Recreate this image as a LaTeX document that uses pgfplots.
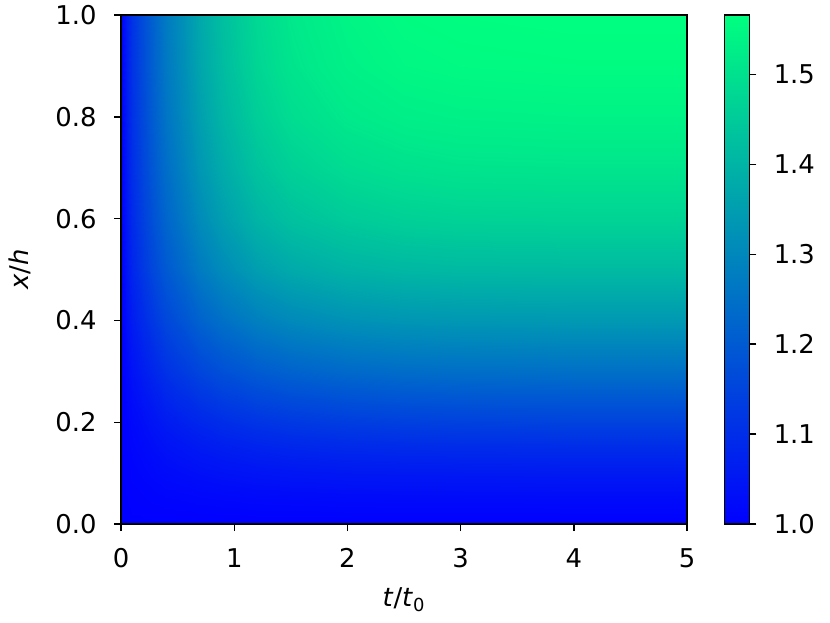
\documentclass[border=0pt]{standalone}
\usepackage{fontspec}
\setmainfont{DejaVu Sans}
\usepackage{pgfplots}
\pgfplotsset{compat=1.18}

% value field u(t, x); one scanline per x
\pgfplotstableread{
t x u
0 0 1.000
0.05 0 1.000
0.1 0 1.000
0.2 0 1.000
0.3 0 1.000
0.4 0 1.000
0.5 0 1.000
0.7 0 1.000
0.9 0 1.000
1.2 0 1.000
1.5 0 1.000
2 0 1.000
2.5 0 1.000
3 0 1.000
4 0 1.000
5 0 1.000

0 0.05 1.000
0.05 0.05 1.001
0.1 0.05 1.003
0.2 0.05 1.005
0.3 0.05 1.007
0.4 0.05 1.009
0.5 0.05 1.010
0.7 0.05 1.013
0.9 0.05 1.015
1.2 0.05 1.018
1.5 0.05 1.019
2 0.05 1.021
2.5 0.05 1.022
3 0.05 1.022
4 0.05 1.023
5 0.05 1.023

0 0.1 1.000
0.05 0.1 1.003
0.1 0.1 1.007
0.2 0.1 1.012
0.3 0.1 1.018
0.4 0.1 1.023
0.5 0.1 1.026
0.7 0.1 1.033
0.9 0.1 1.038
1.2 0.1 1.044
1.5 0.1 1.048
2 0.1 1.052
2.5 0.1 1.054
3 0.1 1.055
4 0.1 1.057
5 0.1 1.057

0 0.15 1.000
0.05 0.15 1.006
0.1 0.15 1.012
0.2 0.15 1.021
0.3 0.15 1.030
0.4 0.15 1.038
0.5 0.15 1.044
0.7 0.15 1.056
0.9 0.15 1.065
1.2 0.15 1.075
1.5 0.15 1.082
2 0.15 1.089
2.5 0.15 1.092
3 0.15 1.094
4 0.15 1.096
5 0.15 1.096

0 0.2 1.000
0.05 0.2 1.009
0.1 0.2 1.018
0.2 0.2 1.032
0.3 0.2 1.046
0.4 0.2 1.059
0.5 0.2 1.068
0.7 0.2 1.085
0.9 0.2 1.100
1.2 0.2 1.115
1.5 0.2 1.125
2 0.2 1.135
2.5 0.2 1.141
3 0.2 1.144
4 0.2 1.147
5 0.2 1.147

0 0.3 1.000
0.05 0.3 1.022
0.1 0.3 1.040
0.2 0.3 1.066
0.3 0.3 1.088
0.4 0.3 1.110
0.5 0.3 1.125
0.7 0.3 1.154
0.9 0.3 1.178
1.2 0.3 1.203
1.5 0.3 1.219
2 0.3 1.234
2.5 0.3 1.242
3 0.3 1.246
4 0.3 1.249
5 0.3 1.249

0 0.4 1.000
0.05 0.4 1.037
0.1 0.4 1.063
0.2 0.4 1.099
0.3 0.4 1.130
0.4 0.4 1.158
0.5 0.4 1.178
0.7 0.4 1.219
0.9 0.4 1.250
1.2 0.4 1.284
1.5 0.4 1.305
2 0.4 1.324
2.5 0.4 1.333
3 0.4 1.337
4 0.4 1.340
5 0.4 1.340

0 0.5 1.000
0.05 0.5 1.050
0.1 0.5 1.083
0.2 0.5 1.128
0.3 0.5 1.165
0.4 0.5 1.198
0.5 0.5 1.223
0.7 0.5 1.273
0.9 0.5 1.310
1.2 0.5 1.351
1.5 0.5 1.376
2 0.5 1.397
2.5 0.5 1.407
3 0.5 1.411
4 0.5 1.413
5 0.5 1.413

0 0.6 1.000
0.05 0.6 1.056
0.1 0.6 1.094
0.2 0.6 1.146
0.3 0.6 1.188
0.4 0.6 1.226
0.5 0.6 1.254
0.7 0.6 1.310
0.9 0.6 1.353
1.2 0.6 1.400
1.5 0.6 1.428
2 0.6 1.451
2.5 0.6 1.463
3 0.6 1.468
4 0.6 1.470
5 0.6 1.470

0 0.7 1.000
0.05 0.7 1.061
0.1 0.7 1.102
0.2 0.7 1.158
0.3 0.7 1.204
0.4 0.7 1.244
0.5 0.7 1.275
0.7 0.7 1.336
0.9 0.7 1.382
1.2 0.7 1.433
1.5 0.7 1.463
2 0.7 1.489
2.5 0.7 1.501
3 0.7 1.507
4 0.7 1.509
5 0.7 1.509

0 0.8 1.000
0.05 0.8 1.065
0.1 0.8 1.108
0.2 0.8 1.167
0.3 0.8 1.215
0.4 0.8 1.258
0.5 0.8 1.291
0.7 0.8 1.355
0.9 0.8 1.404
1.2 0.8 1.457
1.5 0.8 1.490
2 0.8 1.517
2.5 0.8 1.530
3 0.8 1.535
4 0.8 1.538
5 0.8 1.538

0 0.9 1.000
0.05 0.9 1.067
0.1 0.9 1.111
0.2 0.9 1.173
0.3 0.9 1.223
0.4 0.9 1.267
0.5 0.9 1.301
0.7 0.9 1.368
0.9 0.9 1.418
1.2 0.9 1.474
1.5 0.9 1.507
2 0.9 1.535
2.5 0.9 1.549
3 0.9 1.554
4 0.9 1.557
5 0.9 1.557

0 1.0 1.000
0.05 1.0 1.068
0.1 1.0 1.113
0.2 1.0 1.176
0.3 1.0 1.226
0.4 1.0 1.272
0.5 1.0 1.306
0.7 1.0 1.374
0.9 1.0 1.425
1.2 1.0 1.481
1.5 1.0 1.515
2 1.0 1.543
2.5 1.0 1.558
3 1.0 1.563
4 1.0 1.566
5 1.0 1.566
}\field

\begin{document}
\begin{tikzpicture}
\path[use as bounding box] (-67.4pt,-55.1pt) rectangle (394.9pt,291.9pt);
\begin{axis}[
  at={(0,0)}, anchor=south west,
  scale only axis,
  width=315.3pt, height=283.5pt,
  xmin=0, xmax=5, ymin=0, ymax=1,
  axis on top,
  line width=0.8pt,
  tick align=outside,
  xtick pos=lower, ytick pos=left,
  major tick length=3.9pt,
  every tick/.style={black, line width=0.8pt},
  xtick={0,1,2,3,4,5},
  ytick={0,0.2,0.4,0.6,0.8,1.0},
  yticklabel style={xshift=-6pt, /pgf/number format/.cd, fixed, fixed zerofill, precision=1},
  xticklabel style={yshift=-6pt},
  /pgf/number format/assume math mode=true,
  tick label style={font=\fontsize{14.4}{17}\selectfont},
  label style={font=\fontsize{14.4}{17}\selectfont},
  xlabel={\textit{t}/\textit{t}\textsubscript{0}},
  ylabel={\textit{x}/\textit{h}},
  xlabel style={at={(axis description cs:0.5,-0.149)}, anchor=center},
  ylabel style={at={(axis description cs:-0.1786,0.5)}, anchor=center, rotate=0},
  colormap={winter}{rgb=(0,0,1) rgb=(0,1,0.5)},
  point meta min=1.0, point meta max=1.566,
  colorbar,
  colorbar style={
    at={(parent axis.north east)}, anchor=north west, xshift=12.2pt,
    width=13.9pt,
    line width=0.8pt,
    tick align=outside,
    major tick length=3.9pt,
    every tick/.style={black, line width=0.8pt},
    ytick={1.0,1.1,1.2,1.3,1.4,1.5},
    ytick pos=right,
    yticklabel pos=right,
    yticklabel style={xshift=6pt, font=\fontsize{14.4}{17}\selectfont, /pgf/number format/.cd, fixed, fixed zerofill, precision=1},
    /pgf/number format/assume math mode=true,
  },
]
\addplot[surf, shader=interp, mesh/cols=16, point meta=\thisrow{u}] table[x=t, y=x] {\field};
\end{axis}
\end{tikzpicture}
\end{document}
